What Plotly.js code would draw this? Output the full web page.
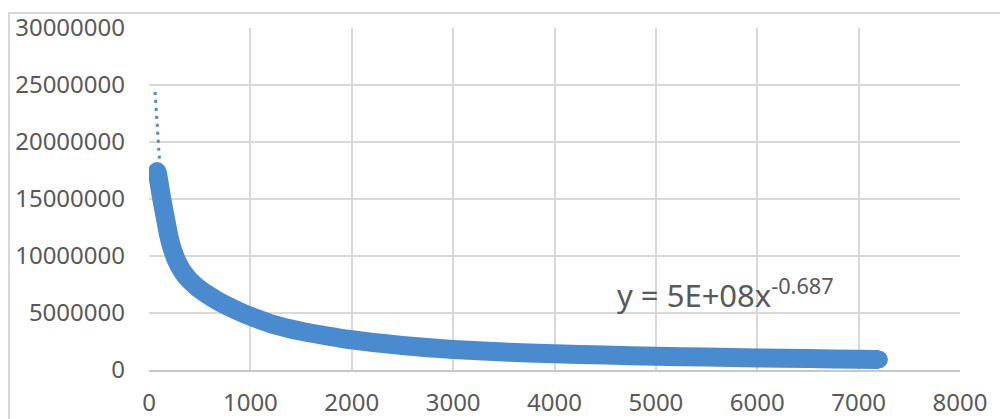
<!DOCTYPE html>
<html>
<head>
<meta charset="utf-8">
<script src="https://cdn.plot.ly/plotly-3.0.1.min.js"></script>
<style>
  html, body { margin: 0; padding: 0; background: #ffffff; }
  #chart { width: 1000px; height: 419px; }
</style>
</head>
<body>
<div id="chart"></div>
<script>
const seriesX = [80, 100, 128, 160, 190, 220, 240, 256, 280, 310, 350, 414, 490, 572, 700, 897, 1050, 1223, 1500, 1750, 2000, 2500, 3000, 3500, 4000, 4500, 5000, 5500, 6000, 6500, 7000, 7200];
const seriesY = [17450000, 16400000, 14900000, 13400000, 12000000, 10900000, 10350000, 9950000, 9450000, 8950000, 8400000, 7750000, 7150000, 6650000, 5950000, 5100000, 4550000, 4000000, 3400000, 3000000, 2650000, 2150000, 1800000, 1580000, 1430000, 1310000, 1210000, 1130000, 1060000, 1000000, 940000, 920000];

// Visible part of the dotted power trendline
const trendX = [60, 70, 80, 90, 105, 125];
const trendY = [24400000, 22800000, 21300000, 19900000, 18200000, 15500000];

// Tick values and labels
const xTicks = [0, 1000, 2000, 3000, 4000, 5000, 6000, 7000, 8000];
const yTicks = [0, 5000000, 10000000, 15000000, 20000000, 25000000, 30000000];
const yTickLabels = ['0', '5000000', '10000000', '15000000', '20000000', '25000000', '30000000'];
const equationText = 'y = 5E+08x<sup>-0.687</sup>';

const blue = '#4A8BD0';
const textColor = '#595959';
const gridColor = '#d9d9d9';
const fontFamily = '"Noto Sans", "Open Sans", sans-serif';

const traces = [
  {
    x: trendX, y: trendY,
    type: 'scatter', mode: 'lines',
    line: { color: blue, width: 3, dash: '3px,5px' },
    hoverinfo: 'skip', showlegend: false
  },
  {
    x: seriesX, y: seriesY,
    type: 'scatter', mode: 'lines+markers',
    line: { color: blue, width: 19, shape: 'spline', smoothing: 0.6 },
    marker: { color: blue, size: 18 },
    showlegend: false
  }
];

const layout = {
  width: 1000, height: 419,
  margin: { l: 149, r: 40, t: 28, b: 49, pad: 0 },
  paper_bgcolor: '#ffffff', plot_bgcolor: '#ffffff',
  font: { family: fontFamily, color: textColor, size: 24 },
  showlegend: false,
  xaxis: {
    range: [0, 8000], tickvals: xTicks, ticktext: xTicks.map(String),
    showgrid: true, gridcolor: gridColor, gridwidth: 2,
    zeroline: false, showline: true, linecolor: '#c8c8c8', linewidth: 2,
    ticks: '', ticklabelstandoff: 10,
    tickfont: { family: fontFamily, size: 24, color: textColor },
    fixedrange: true
  },
  yaxis: {
    range: [0, 30000000], tickvals: yTicks, ticktext: yTickLabels,
    showgrid: true, gridcolor: gridColor, gridwidth: 2,
    zeroline: false, showline: false,
    ticks: '', ticklabelstandoff: 23,
    tickfont: { family: fontFamily, size: 24, color: textColor },
    fixedrange: true
  },
  shapes: [
    {
      type: 'rect', xref: 'paper', yref: 'paper',
      x0: -0.1726, x1: 1.2, y0: -0.4, y1: 1.044,
      line: { color: gridColor, width: 2 }, fillcolor: 'rgba(0,0,0,0)',
      layer: 'below'
    }
  ],
  annotations: [
    {
      x: 4596, y: 6670000, xref: 'x', yref: 'y',
      xanchor: 'left', yanchor: 'middle',
      text: equationText, showarrow: false,
      font: { family: fontFamily, size: 31, color: textColor }
    }
  ]
};

Plotly.newPlot('chart', traces, layout, { displayModeBar: false, staticPlot: true });
</script>
</body>
</html>
